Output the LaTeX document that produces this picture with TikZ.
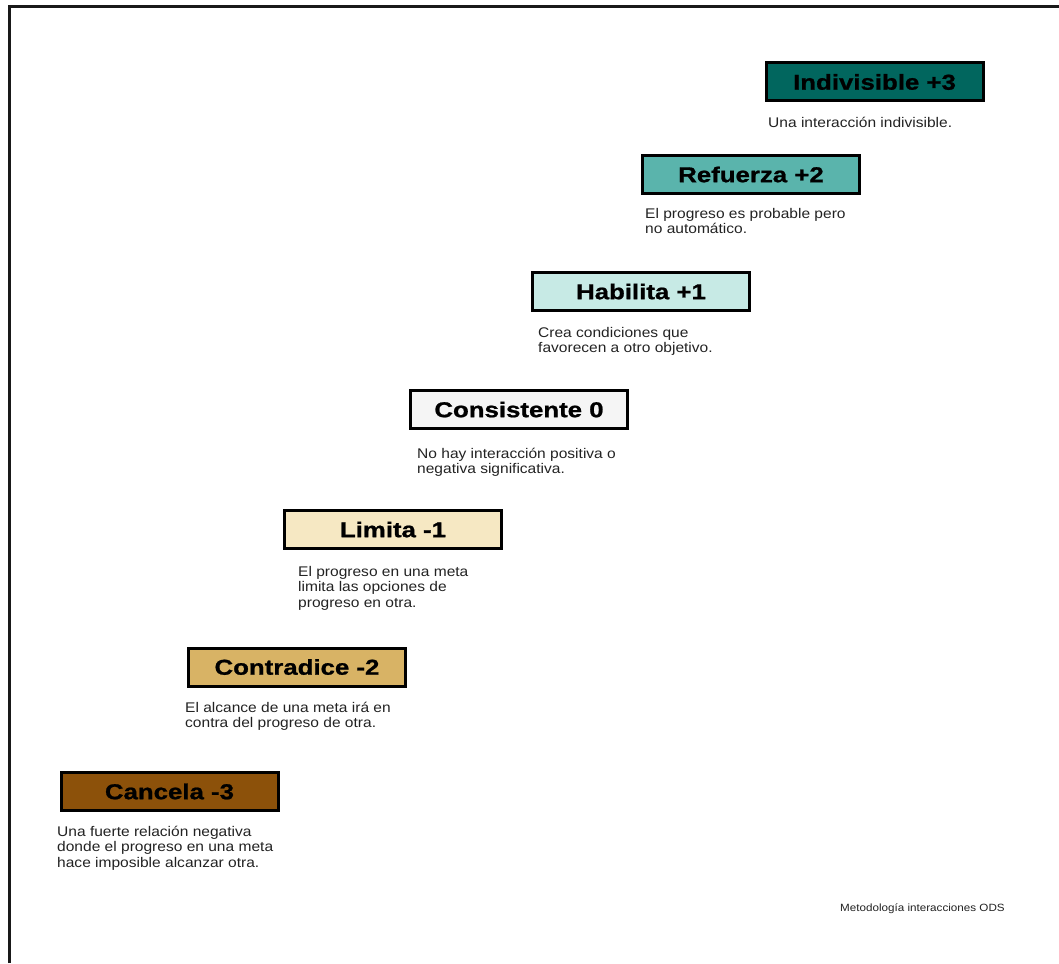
\documentclass[tikz,border=0pt]{standalone}
\usepackage{fontspec}
\setmainfont{Liberation Sans}
\newfontfamily\titlefont[FakeStretch=1.2,FakeBold=1]{Liberation Sans Bold}
\newfontfamily\descfont[FakeStretch=1.11]{Liberation Sans}
\definecolor{c3n}{HTML}{8C510A}
\definecolor{c2n}{HTML}{D8B365}
\definecolor{c1n}{HTML}{F6E8C3}
\definecolor{c0}{HTML}{F5F5F5}
\definecolor{c1p}{HTML}{C7EAE5}
\definecolor{c2p}{HTML}{5AB4AC}
\definecolor{c3p}{HTML}{01665E}
\definecolor{desccol}{HTML}{222222}
\tikzset{
  levelbox/.style={draw=black, line width=3pt, minimum width=217pt, minimum height=38pt, inner sep=0pt,
    font={\titlefont\fontsize{21.5}{21.5}\selectfont}, text=black},
  desc/.style={anchor=base west, inner sep=0pt, align=left, text=desccol,
    font={\descfont\fontsize{14}{15.5}\selectfont}},
}
\begin{document}
\begin{tikzpicture}[x=1pt, y=-1pt]
\useasboundingbox (0,0) rectangle (1059,963);
\draw[line width=3pt, color=black!90] (9,963) -- (9,6.5) -- (1059,6.5);

\node[levelbox, fill=c3p] (ind) at (874.5,82) {Indivisible +3};
\node[levelbox, fill=c2p] (ref) at (751,174.5) {Refuerza +2};
\node[levelbox, fill=c1p] (hab) at (641,291.5) {Habilita +1};
\node[levelbox, fill=c0] (con) at (519,409.5) {Consistente 0};
\node[levelbox, fill=c1n] (lim) at (393,529.5) {Limita -1};
\node[levelbox, fill=c2n] (ctr) at (297,667) {Contradice -2};
\node[levelbox, fill=c3n] (can) at (169.5,791.5) {Cancela -3};

% anchor = baseline of the last line
\node[desc] (dind) at (768,128) {Una interacción indivisible.};
\node[desc] (dref) at (645,233.5) {El progreso es probable pero\\no automático.};
\node[desc] (dhab) at (538,352.5) {Crea condiciones que\\favorecen a otro objetivo.};
\node[desc] (dcon) at (417,473.5) {No hay interacción positiva o\\negativa significativa.};
\node[desc] (dlim) at (298,607) {El progreso en una meta\\limita las opciones de\\progreso en otra.};
\node[desc] (dctr) at (185,727.5) {El alcance de una meta irá en\\contra del progreso de otra.};
\node[desc] (dcan) at (57,867) {Una fuerte relación negativa\\donde el progreso en una meta\\hace imposible alcanzar otra.};

\node[anchor=base west, inner sep=0pt, text=desccol, font={\descfont\fontsize{10.5}{12}\selectfont}] (foot) at (840,911) {Metodología interacciones ODS};
\end{tikzpicture}
\end{document}
